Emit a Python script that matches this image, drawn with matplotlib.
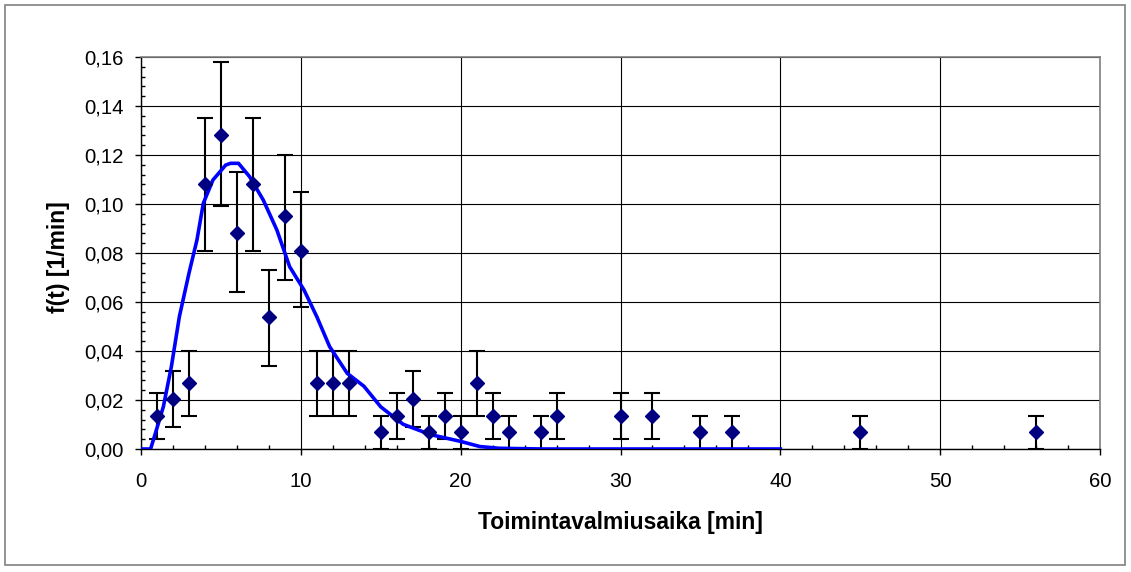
import matplotlib
matplotlib.use("Agg")
import matplotlib.pyplot as plt
from matplotlib.ticker import MultipleLocator, FuncFormatter
from matplotlib.patches import Rectangle

# Observed data (t [min], f(t) [1/min]) with asymmetric error bars (lower/upper bounds)
t_obs = [1, 2, 3, 4, 5, 6, 7, 8, 9, 10, 11, 12, 13, 15, 16, 17, 18, 19, 20,
         21, 22, 23, 25, 26, 30, 32, 35, 37, 45, 56]
f_obs = [0.0135, 0.0203, 0.027, 0.108, 0.128, 0.088, 0.108, 0.054, 0.095, 0.081,
         0.027, 0.027, 0.027, 0.0068, 0.0135, 0.0203, 0.0068, 0.0135, 0.0068,
         0.027, 0.0135, 0.0068, 0.0068, 0.0135, 0.0135, 0.0135, 0.0068, 0.0068,
         0.0068, 0.0068]
f_low = [0.004, 0.009, 0.0135, 0.081, 0.099, 0.064, 0.081, 0.034, 0.069, 0.058,
         0.0135, 0.0135, 0.0135, 0.0, 0.004, 0.009, 0.0, 0.004, 0.0,
         0.0135, 0.004, 0.0, 0.0, 0.004, 0.004, 0.004, 0.0, 0.0,
         0.0, 0.0]
f_high = [0.023, 0.032, 0.040, 0.135, 0.158, 0.113, 0.135, 0.073, 0.120, 0.105,
          0.040, 0.040, 0.040, 0.0135, 0.023, 0.032, 0.0135, 0.023, 0.0135,
          0.040, 0.023, 0.0135, 0.0135, 0.023, 0.023, 0.023, 0.0135, 0.0135,
          0.0135, 0.0135]

# Fitted density curve
t_fit = [0.0, 0.6, 0.9, 1.4, 1.9, 2.4, 3.0, 3.5, 3.9, 4.5, 5.3, 5.6, 6.1, 6.8,
         7.65, 8.5, 9.3, 10.2, 11.0, 11.8, 12.9, 13.95, 15.0, 16.4, 18.1, 20.0,
         21.2, 22.4, 25.1, 30.0, 40.0]
f_fit = [0.0, 0.0, 0.0064, 0.0173, 0.0336, 0.054, 0.0717, 0.0853, 0.1003, 0.1098,
         0.1159, 0.1166, 0.1166, 0.1111, 0.1016, 0.0894, 0.0744, 0.0649, 0.054,
         0.0418, 0.0309, 0.0256, 0.0172, 0.0101, 0.0059, 0.0031, 0.001, 0.0003,
         0.0, 0.0, 0.0]

x_label = "Toimintavalmiusaika [min]"
y_label = "f(t) [1/min]"

plt.rcParams['font.family'] = ['Liberation Sans', 'DejaVu Sans']

fig = plt.figure(figsize=(11.31, 5.72), dpi=100)
fig.patches.append(Rectangle((5 / 1131, 7 / 572), 1120 / 1131, 560 / 572,
                             transform=fig.transFigure, fill=False,
                             edgecolor='#808080', linewidth=1.2))

ax = fig.add_axes([141 / 1131, 1 - 449 / 572, (1100 - 141) / 1131, (449 - 57) / 572])

yerr = [[f - lo for f, lo in zip(f_obs, f_low)], [hi - f for f, hi in zip(f_obs, f_high)]]
ax.errorbar(t_obs, f_obs, yerr=yerr, fmt='none', ecolor='black', elinewidth=1.5,
            capsize=6, capthick=1.5, zorder=3)
ax.plot(t_fit, f_fit, color='#0000FF', linewidth=2.6, zorder=4)
ax.plot(t_obs, f_obs, linestyle='none', marker='D', markersize=7.5,
        color='#000080', zorder=5)

ax.set_xlim(0, 60)
ax.set_ylim(0, 0.16)
ax.xaxis.set_major_locator(MultipleLocator(10))
ax.xaxis.set_minor_locator(MultipleLocator(2))
ax.yaxis.set_major_locator(MultipleLocator(0.02))
ax.yaxis.set_minor_locator(MultipleLocator(0.004))
ax.yaxis.set_major_formatter(FuncFormatter(lambda v, p: f"{v:.2f}".replace('.', ',')))
ax.xaxis.set_major_formatter(FuncFormatter(lambda v, p: f"{int(round(v))}"))

ax.grid(True, which='major', color='black', linewidth=0.8)
ax.set_axisbelow(True)
ax.tick_params(which='major', direction='out', length=4.3, width=1, labelsize=14.7,
               colors='black')
ax.tick_params(which='minor', direction='in', length=3, width=1)
ax.tick_params(axis='y', pad=8)
ax.tick_params(axis='x', pad=12.5)

for s in ['top', 'right']:
    ax.spines[s].set_color('#808080')
    ax.spines[s].set_linewidth(1.2)
for s in ['left', 'bottom']:
    ax.spines[s].set_color('black')
    ax.spines[s].set_linewidth(1.0)

ax.set_xlabel(x_label, fontsize=16.5, fontweight='bold')
ax.set_ylabel(y_label, fontsize=16.5, fontweight='bold')
ax.xaxis.set_label_coords(0.5, -0.157)
ax.yaxis.set_label_coords(-0.074, 0.49)

fig.savefig('out.png', dpi=100)
